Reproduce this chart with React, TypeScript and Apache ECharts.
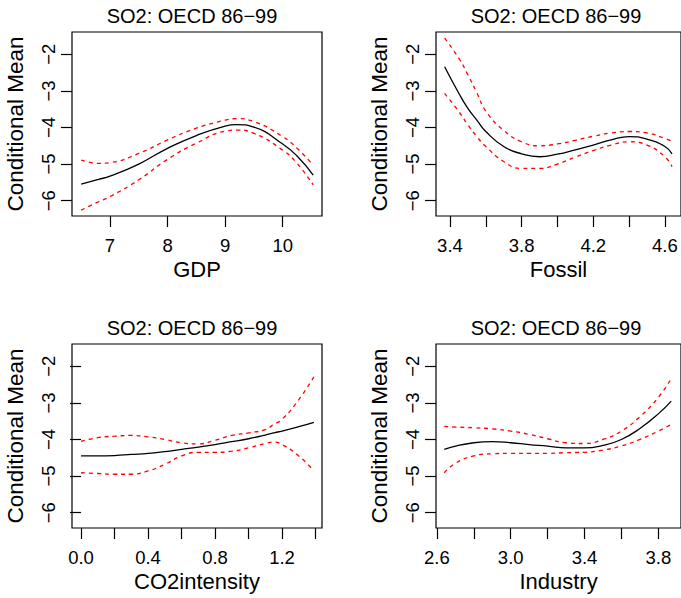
import React, { useEffect, useRef } from "react";
import * as echarts from "echarts";

const panelTitle = "SO2: OECD 86\u221299";
const yName = "Conditional Mean";
const yTicks = [-6, -5, -4, -3, -2];

const gdpX = [6.5, 6.8, 7.0, 7.5, 8.0, 8.5, 9.0, 9.2, 9.5, 10.0, 10.25, 10.53];
const gdpFit = [-5.55, -5.42, -5.33, -5.0, -4.57, -4.22, -3.96, -3.92, -3.99, -4.45, -4.78, -5.3];
const gdpUpper = [-4.89, -4.98, -4.96, -4.71, -4.34, -4.02, -3.8, -3.76, -3.84, -4.25, -4.57, -5.03];
const gdpLower = [-6.26, -6.03, -5.89, -5.43, -4.87, -4.43, -4.1, -4.07, -4.16, -4.62, -4.98, -5.57];
const gdpTicks = [7, 8, 9, 10];
const gdpLabels = [7, 8, 9, 10];

const fossilX = [3.37, 3.45, 3.5, 3.55, 3.6, 3.7, 3.8, 3.9, 4.0, 4.1, 4.2, 4.3, 4.4, 4.5, 4.6, 4.64];
const fossilFit = [-2.34, -3.07, -3.48, -3.8, -4.11, -4.52, -4.72, -4.8, -4.73, -4.61, -4.48, -4.34, -4.25, -4.32, -4.52, -4.72];
const fossilUpper = [-1.56, -2.11, -2.56, -3.05, -3.55, -4.08, -4.39, -4.5, -4.45, -4.35, -4.24, -4.15, -4.11, -4.15, -4.3, -4.38];
const fossilLower = [-3.07, -3.57, -3.93, -4.25, -4.52, -4.93, -5.12, -5.12, -5.0, -4.81, -4.63, -4.48, -4.39, -4.48, -4.8, -5.07];
const fossilTicks = [3.4, 3.6, 3.8, 4.0, 4.2, 4.4, 4.6];
const fossilLabels = [3.4, 3.8, 4.2, 4.6];

const co2X = [0, 0.1, 0.2, 0.3, 0.4, 0.5, 0.6, 0.7, 0.8, 0.9, 1.0, 1.1, 1.15, 1.2, 1.3, 1.39];
const co2Fit = [-4.45, -4.45, -4.44, -4.41, -4.38, -4.33, -4.27, -4.21, -4.14, -4.06, -3.98, -3.88, -3.82, -3.77, -3.65, -3.53];
const co2Upper = [-4.05, -3.95, -3.91, -3.89, -3.93, -4.0, -4.09, -4.12, -4.02, -3.89, -3.82, -3.73, -3.59, -3.45, -2.91, -2.29];
const co2Lower = [-4.91, -4.93, -4.95, -4.95, -4.86, -4.68, -4.45, -4.35, -4.35, -4.32, -4.23, -4.11, -4.07, -4.14, -4.45, -4.86];
const co2Ticks = [0, 0.2, 0.4, 0.6, 0.8, 1.0, 1.2, 1.4];
const co2Labels = [0, 0.4, 0.8, 1.2];

const indX = [2.64, 2.7, 2.8, 2.9, 3.0, 3.1, 3.2, 3.3, 3.4, 3.5, 3.6, 3.7, 3.8, 3.87];
const indFit = [-4.27, -4.18, -4.09, -4.06, -4.09, -4.14, -4.18, -4.23, -4.23, -4.16, -4.0, -3.7, -3.3, -2.95];
const indUpper = [-3.64, -3.66, -3.68, -3.71, -3.77, -3.86, -3.98, -4.09, -4.11, -4.0, -3.77, -3.38, -2.85, -2.34];
const indLower = [-4.91, -4.65, -4.45, -4.39, -4.38, -4.38, -4.38, -4.36, -4.35, -4.29, -4.18, -4.0, -3.77, -3.59];
const indTicks = [2.6, 2.8, 3.0, 3.2, 3.4, 3.6, 3.8];
const indLabels = [2.6, 3.0, 3.4, 3.8];

const FONT = "'Liberation Sans', Arial, Helvetica, sans-serif";

type Panel = {
  name: string;
  x: number[];
  fit: number[];
  upper: number[];
  lower: number[];
  ticks: number[];
  labels: number[];
  min: number;
  max: number;
  decimals: number;
  left: number;
  top: number;
};

const panels: Panel[] = [
  { name: "GDP", x: gdpX, fit: gdpFit, upper: gdpUpper, lower: gdpLower, ticks: gdpTicks, labels: gdpLabels, min: 6.34, max: 10.683, decimals: 0, left: 72, top: 32 },
  { name: "Fossil", x: fossilX, fit: fossilFit, upper: fossilUpper, lower: fossilLower, ticks: fossilTicks, labels: fossilLabels, min: 3.322, max: 4.69, decimals: 1, left: 436, top: 32 },
  { name: "CO2intensity", x: co2X, fit: co2Fit, upper: co2Upper, lower: co2Lower, ticks: co2Ticks, labels: co2Labels, min: -0.054, max: 1.4385, decimals: 1, left: 72, top: 344 },
  { name: "Industry", x: indX, fit: indFit, upper: indUpper, lower: indLower, ticks: indTicks, labels: indLabels, min: 2.595, max: 3.923, decimals: 1, left: 436, top: 344 },
];

const W = 250;
const H = 184;

const zip = (xs: number[], ys: number[]) => xs.map((x, i) => [x, ys[i]]);
const minus = (s: string) => s.replace("-", "\u2212");

export default function App() {
  const ref = useRef<HTMLDivElement>(null);
  useEffect(() => {
    if (!ref.current) return;
    const chart = echarts.init(ref.current, undefined, { renderer: "svg" });
    const grid: any[] = [];
    const xAxis: any[] = [];
    const yAxis: any[] = [];
    const series: any[] = [];
    const title: any[] = [];
    panels.forEach((p, i) => {
      grid.push({
        left: p.left,
        top: p.top,
        width: W,
        height: H,
        show: true,
        borderColor: "#000",
        borderWidth: 1.2,
        backgroundColor: "transparent",
      });
      title.push({
        text: panelTitle,
        left: p.left + W / 2 - 5,
        top: p.top - 26,
        textAlign: "center",
        padding: 0,
        textStyle: { fontFamily: FONT, fontSize: 20, fontWeight: "normal", color: "#000" },
      });
      xAxis.push({
        type: "value",
        gridIndex: i,
        min: p.min,
        max: p.max,
        name: p.name,
        nameLocation: "middle",
        nameGap: 42,
        nameTextStyle: { fontFamily: FONT, fontSize: 22, color: "#000" },
        axisLine: { show: false },
        splitLine: { show: false },
        axisTick: { show: true, inside: false, length: 11, customValues: p.ticks, lineStyle: { color: "#000", width: 1.2 } },
        axisLabel: {
          customValues: p.labels,
          margin: 20,
          fontFamily: FONT,
          fontSize: 18.5,
          color: "#000",
          formatter: (v: number) => minus(v.toFixed(p.decimals)),
        },
      });
      yAxis.push({
        type: "value",
        gridIndex: i,
        min: -6.42,
        max: -1.39,
        name: yName,
        nameLocation: "middle",
        nameGap: 45,
        nameTextStyle: { fontFamily: FONT, fontSize: 22.5, color: "#000" },
        axisLine: { show: false },
        splitLine: { show: false },
        axisTick: { show: true, inside: false, length: 11, customValues: yTicks, lineStyle: { color: "#000", width: 1.2 } },
        axisLabel: {
          customValues: yTicks,
          rotate: 90,
          margin: 14,
          fontFamily: FONT,
          fontSize: 18.5,
          color: "#000",
          formatter: (v: number) => minus(String(v)),
        },
      });
      const base = { type: "line", xAxisIndex: i, yAxisIndex: i, showSymbol: false, symbol: "none", smooth: 0.5, silent: true };
      series.push({ ...base, name: p.name + " fit", data: zip(p.x, p.fit), lineStyle: { color: "#000", width: 1.3, type: "solid" } });
      series.push({ ...base, name: p.name + " upper", data: zip(p.x, p.upper), lineStyle: { color: "#ff0000", width: 1.3, type: [4, 4] } });
      series.push({ ...base, name: p.name + " lower", data: zip(p.x, p.lower), lineStyle: { color: "#ff0000", width: 1.3, type: [4, 4] } });
    });
    chart.setOption({ animation: false, backgroundColor: "#fff", title, grid, xAxis, yAxis, series });
    return () => chart.dispose();
  }, []);
  return <div ref={ref} style={{ position: "fixed", left: 0, top: 0, width: 681, height: 598 }} />;
}
